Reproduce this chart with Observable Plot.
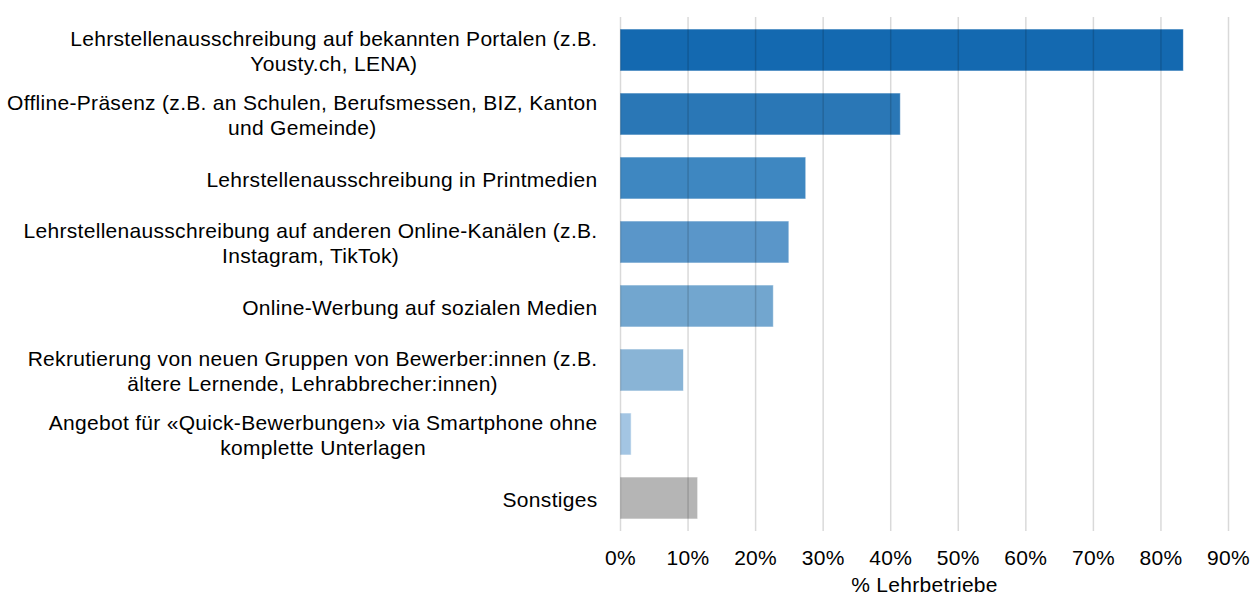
<!DOCTYPE html>
<html>
<head>
<meta charset="utf-8">
<script src="https://cdn.jsdelivr.net/npm/d3@7"></script>
<script src="https://cdn.jsdelivr.net/npm/@observablehq/plot@0.6"></script>
<style>
  html, body { margin: 0; padding: 0; background: #fff; }
  #chart svg { font-family: "Liberation Sans", Arial, sans-serif; display: block; }
  #chart svg text { letter-spacing: 0.3px; }
</style>
</head>
<body>
<div id="chart"></div>
<script>
const categories = [
  "Lehrstellenausschreibung auf bekannten Portalen (z.B.\nYousty.ch, LENA)",
  "Offline-Präsenz (z.B. an Schulen, Berufsmessen, BIZ, Kanton\nund Gemeinde)",
  "Lehrstellenausschreibung in Printmedien",
  "Lehrstellenausschreibung auf anderen Online-Kanälen (z.B.\nInstagram, TikTok)",
  "Online-Werbung auf sozialen Medien",
  "Rekrutierung von neuen Gruppen von Bewerber:innen (z.B.\nältere Lernende, Lehrabbrecher:innen)",
  "Angebot für «Quick-Bewerbungen» via Smartphone ohne\nkomplette Unterlagen",
  "Sonstiges"
];
const values = [0.834, 0.415, 0.275, 0.250, 0.227, 0.094, 0.0165, 0.115];
const xTicks = [0, 0.1, 0.2, 0.3, 0.4, 0.5, 0.6, 0.7, 0.8, 0.9];
const xLabel = "% Lehrbetriebe";

const palette = ["#1469b0", "#2a77b6", "#3e87c1", "#5a96c9", "#72a6cf", "#89b4d6", "#a3c5e3", "#b5b5b5"];

const data = categories.map((c, i) => ({category: c, value: values[i]}));

const chart = Plot.plot({
  width: 1251,
  height: 594,
  marginLeft: 620,
  marginRight: 23,
  marginTop: 17,
  marginBottom: 63,
  style: {fontSize: "21px", fontFamily: "'Liberation Sans', Arial, sans-serif", color: "#000"},
  x: {domain: [0, 0.9]},
  y: {domain: categories, paddingInner: 0.34, paddingOuter: 0.17},
  color: {domain: categories, range: palette},
  marks: [
    Plot.barX(data, {x: "value", y: "category", fill: "category", stroke: "white", strokeWidth: 1, strokeOpacity: 0.6}),
    Plot.gridX(xTicks, {stroke: "#000", strokeOpacity: 0.15, strokeWidth: 1.5}),
    Plot.axisX({ticks: xTicks, tickFormat: d3.format(".0%"), tickSize: 0, tickPadding: 19, fontSize: 21, fill: "#000",
      label: xLabel, labelAnchor: "center", labelArrow: "none", labelOffset: 60}),
    Plot.axisY({tickSize: 0, tickPadding: 23, fontSize: 21, fill: "#000", label: null, lineHeight: 1.19})
  ]
});
document.getElementById("chart").appendChild(chart);

// center multi-line labels within their right-aligned block
chart.querySelectorAll("g[aria-label='y-axis tick label'] text").forEach(t => {
  const spans = t.querySelectorAll("tspan");
  if (spans.length > 1) {
    let maxW = 0;
    spans.forEach(s => { maxW = Math.max(maxW, s.getComputedTextLength()); });
    t.setAttribute("text-anchor", "middle");
    spans.forEach(s => s.setAttribute("x", -maxW / 2));
  }
});
</script>
</body>
</html>
